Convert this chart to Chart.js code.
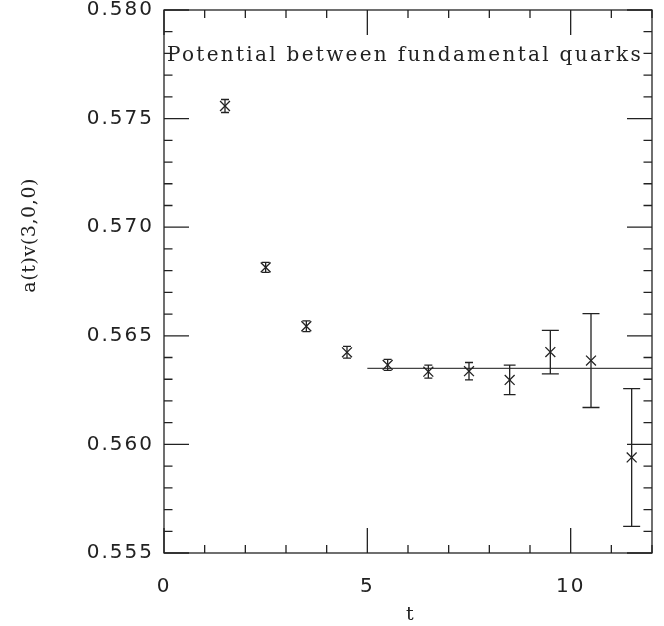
<!DOCTYPE html>
<html>
<head>
<meta charset="utf-8">
<script src="https://cdn.jsdelivr.net/npm/chart.js@4.4.1/dist/chart.umd.min.js"></script>
<style>
  html, body { margin: 0; padding: 0; background: #fff; overflow: hidden; }
  #wrap { width: 664px; height: 626px; position: relative; }
</style>
</head>
<body>
<div id="wrap"><canvas id="c"></canvas></div>
<script>
// Time slices and the measured potential with its statistical errors
const tValues = [1.5, 2.5, 3.5, 4.5, 5.5, 6.5, 7.5, 8.5, 9.5, 10.5, 11.5];
const potential = [0.57558, 0.56815, 0.56544, 0.56424, 0.56366, 0.56335, 0.56337, 0.56297, 0.56425, 0.56386, 0.55940];
const potentialErr = [0.0003, 0.00023, 0.00025, 0.00027, 0.00025, 0.0003, 0.0004, 0.00068, 0.001, 0.00216, 0.00317];

// Plateau fit
const fitRange = [5, 12];
const fitValue = 0.5635;

// Axis ranges and labels
const xRange = [0, 12];
const yRange = [0.555, 0.580];
const xMajorTicks = [0, 5, 10];
const yMajorTicks = [0.555, 0.560, 0.565, 0.570, 0.575, 0.580];
const chartTitle = 'Potential between fundamental quarks';
const xTitle = 't';
const yTitle = 'a(t)v(3,0,0)';

const INK = '#222';
const TICK_SPACING = '2px';

// Wide letter spacing for all tick labels (set again after each canvas reset)
const spacing = {
  id: 'spacing',
  beforeLayout(chart) { chart.ctx.letterSpacing = TICK_SPACING; },
  beforeDraw(chart) { chart.ctx.letterSpacing = TICK_SPACING; }
};

// Inward tick marks on all four sides plus the frame
const frameTicks = {
  id: 'frameTicks',
  afterDatasetsDraw(chart) {
    const { ctx, chartArea: a, scales: { x, y } } = chart;
    ctx.save();
    ctx.strokeStyle = INK;
    ctx.lineWidth = 1.3;
    ctx.strokeRect(a.left, a.top, a.right - a.left, a.bottom - a.top);
    ctx.beginPath();
    x.ticks.forEach(t => {
      const px = x.getPixelForValue(t.value);
      const len = xMajorTicks.some(m => Math.abs(m - t.value) < 1e-9) ? 25 : 8;
      ctx.moveTo(px, a.bottom); ctx.lineTo(px, a.bottom - len);
      ctx.moveTo(px, a.top); ctx.lineTo(px, a.top + len);
    });
    y.ticks.forEach(t => {
      const py = y.getPixelForValue(t.value);
      const major = Math.round(t.value * 1000) % 5 === 0;
      const len = major ? 25 : 8.5;
      ctx.moveTo(a.left, py); ctx.lineTo(a.left + len, py);
      ctx.moveTo(a.right, py); ctx.lineTo(a.right - len, py);
    });
    ctx.stroke();
    ctx.restore();
  }
};

// Vertical error bars with caps
const errorBars = {
  id: 'errorBars',
  afterDatasetsDraw(chart) {
    const { ctx, scales: { x, y } } = chart;
    ctx.save();
    ctx.strokeStyle = INK;
    ctx.lineWidth = 1.3;
    tValues.forEach((t, i) => {
      const px = x.getPixelForValue(t);
      const top = y.getPixelForValue(potential[i] + potentialErr[i]);
      const bot = y.getPixelForValue(potential[i] - potentialErr[i]);
      const half = Math.max(4, Math.min(8.5, (bot - top) * 0.2));
      ctx.beginPath();
      ctx.moveTo(px, top); ctx.lineTo(px, bot);
      ctx.moveTo(px - half, top); ctx.lineTo(px + half, top);
      ctx.moveTo(px - half, bot); ctx.lineTo(px + half, bot);
      ctx.stroke();
    });
    ctx.restore();
  }
};

// Title inside the frame and the axis titles
const texts = {
  id: 'texts',
  afterDraw(chart) {
    const { ctx, chartArea: a } = chart;
    ctx.save();
    ctx.fillStyle = INK;
    ctx.textAlign = 'center';
    ctx.textBaseline = 'middle';
    ctx.font = '20px "DejaVu Serif"';
    ctx.letterSpacing = '2.3px';
    ctx.fillText(chartTitle, (a.left + a.right) / 2 - 3, a.top + 46);
    ctx.font = '19px "DejaVu Serif"';
    ctx.letterSpacing = '0.6px';
    ctx.fillText(xTitle, (a.left + a.right) / 2 + 2, a.bottom + 62);
    ctx.translate(30, a.top + (a.bottom - a.top) * 0.415);
    ctx.rotate(-Math.PI / 2);
    ctx.fillText(yTitle, 0, 0);
    ctx.restore();
  }
};

new Chart(document.getElementById('c'), {
  type: 'scatter',
  data: {
    datasets: [
      {
        data: tValues.map((t, i) => ({ x: t, y: potential[i] })),
        pointStyle: 'crossRot',
        pointRadius: 7,
        pointHoverRadius: 7,
        borderColor: INK,
        backgroundColor: INK,
        pointBorderWidth: 1.3,
        showLine: false
      },
      {
        data: fitRange.map(t => ({ x: t, y: fitValue })),
        showLine: true,
        borderColor: '#444',
        borderWidth: 1.4,
        pointRadius: 0
      }
    ]
  },
  plugins: [spacing, errorBars, frameTicks, texts],
  options: {
    responsive: true,
    maintainAspectRatio: false,
    animation: false,
    layout: { padding: { top: 10, right: 12, left: 0, bottom: 0 } },
    plugins: { legend: { display: false }, tooltip: { enabled: false } },
    scales: {
      x: {
        type: 'linear',
        min: xRange[0], max: xRange[1],
        border: { display: false },
        grid: { display: false, drawTicks: false },
        ticks: {
          stepSize: 1,
          autoSkip: false,
          maxRotation: 0,
          padding: 24,
          color: INK,
          font: { family: '"DejaVu Sans"', size: 20, lineHeight: 1 },
          callback: v => xMajorTicks.includes(v) ? String(v) : ''
        },
        afterFit(s) { s.height = 73; s.paddingLeft = 0; s.paddingRight = 0; }
      },
      y: {
        type: 'linear',
        min: yRange[0], max: yRange[1],
        border: { display: false },
        grid: { display: false, drawTicks: false },
        ticks: {
          stepSize: 0.001,
          autoSkip: false,
          padding: 10,
          color: INK,
          font: { family: '"DejaVu Sans"', size: 20, lineHeight: 1 },
          callback: v => {
            const m = yMajorTicks.find(t => Math.abs(t - v) < 1e-7);
            return m !== undefined ? m.toFixed(3) : '';
          }
        },
        afterFit(s) { s.width = 164; s.paddingTop = 0; s.paddingBottom = 0; }
      }
    }
  }
});
</script>
</body>
</html>
